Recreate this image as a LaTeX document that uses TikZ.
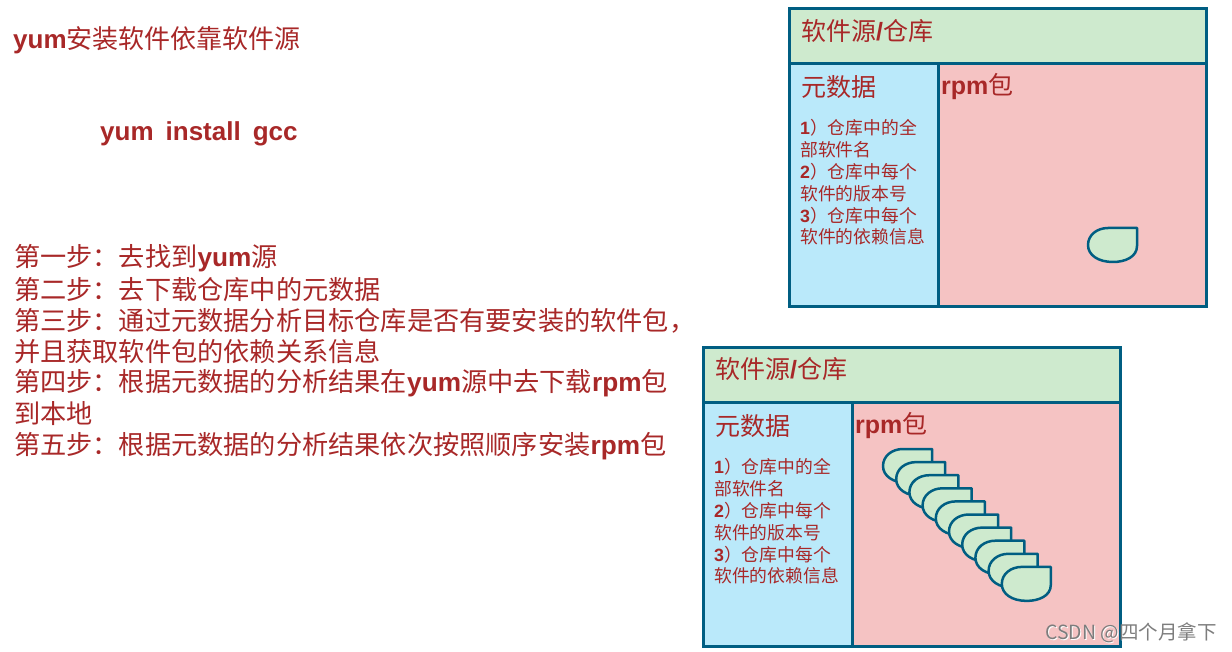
\documentclass[tikz,border=0pt]{standalone}
\usepackage{fontspec}
\setmainfont{Liberation Sans}
\newfontfamily\cjk{Noto Sans CJK SC}
\newfontfamily\lat{Liberation Sans}
\newcommand\LB[1]{{\lat\bfseries #1}}
\definecolor{tred}{RGB}{168,40,40}
\definecolor{bord}{RGB}{0,94,130}
\definecolor{hgreen}{RGB}{206,234,206}
\definecolor{mblue}{RGB}{186,233,250}
\definecolor{rpink}{RGB}{245,195,195}
\definecolor{wmgray}{RGB}{125,125,125}
\tikzset{
  txt/.style={inner sep=0pt, anchor=west, text=tred},
  big/.style={txt, font=\cjk\fontsize{25}{30}\selectfont},
  stepline/.style={txt, font=\cjk\fontsize{26.2}{31}\selectfont},
  small/.style={txt, font=\cjk\fontsize{17.8}{21}\selectfont},
  frame/.style={draw=bord, line width=3pt},
  dropst/.style={fill=hgreen, draw=bord, line width=2.5pt, line join=round},
}
\newcommand\drop[2]{\draw[dropst, shift={(#1,#2)}] (49,0) -- (49,18) .. controls (49,29) and (37,34) .. (25,34) .. controls (10,34) and (0,27) .. (0,17) .. controls (0,7) and (9,0) .. (20,0) -- cycle;}
\begin{document}
\begin{tikzpicture}[x=1pt,y=-1pt]
\useasboundingbox[fill=white] (0,0) rectangle (1232,652);

% left texts
\node[txt, font=\cjk\fontsize{26}{31}\selectfont] (title) at (13,40) {\LB{yum}安装软件依靠软件源};
\node[txt, font=\lat\bfseries\fontsize{26}{31}\selectfont] (cmd) at (100,134) {yum\hspace{12pt}install\hspace{12pt}gcc};
\node[stepline] (s1) at (14,258) {第一步：去找到\LB{yum}源};
\node[stepline] (s2) at (14,290) {第二步：去下载仓库中的元数据};
\node[stepline] (s3) at (14,321) {第三步：通过元数据分析目标仓库是否有要安装的软件包，};
\node[stepline] (s3b) at (14,352) {并且获取软件包的依赖关系信息};
\node[stepline] (s4) at (14,383) {第四步：根据元数据的分析结果在\LB{yum}源中去下载\LB{rpm}包};
\node[stepline] (s4b) at (14,414) {到本地};
\node[stepline] (s5) at (14,446) {第五步：根据元数据的分析结果依次按照顺序安装\LB{rpm}包};

% box 1
\fill[hgreen] (789,9) rectangle (1206,64);
\fill[mblue] (789,64) rectangle (938,307);
\fill[rpink] (938,64) rectangle (1206,307);
\draw[frame] (789,9) rectangle (1206,307);
\draw[frame] (789,64) -- (1206,64) (938,64) -- (938,307);
\node[big] (h1) at (801,31) {软件源\LB{/}仓库};
\node[big] (m1) at (801,87) {元数据};
\node[big] (r1) at (941,87) {\LB{rpm}包};
\node[small] (a1) at (800,128) {\LB{1}）仓库中的全};
\node[small] (a2) at (800,150) {部软件名};
\node[small] (a3) at (800,172) {\LB{2}）仓库中每个};
\node[small] (a4) at (800,194) {软件的版本号};
\node[small] (a5) at (800,216) {\LB{3}）仓库中每个};
\node[small] (a6) at (800,237) {软件的依赖信息};
\drop{1088}{228}

% box 2
\fill[hgreen] (703,348) rectangle (1120,402);
\fill[mblue] (703,402) rectangle (852,646);
\fill[rpink] (852,402) rectangle (1120,646);
\draw[frame] (703,348) rectangle (1120,646);
\draw[frame] (703,402) -- (1120,402) (852,402) -- (852,646);
\node[big] (h2) at (715,369) {软件源\LB{/}仓库};
\node[big] (m2) at (715,426) {元数据};
\node[big] (r2) at (855,426) {\LB{rpm}包};
\node[small] (b1) at (714,467) {\LB{1}）仓库中的全};
\node[small] (b2) at (714,489) {部软件名};
\node[small] (b3) at (714,511) {\LB{2}）仓库中每个};
\node[small] (b4) at (714,533) {软件的版本号};
\node[small] (b5) at (714,555) {\LB{3}）仓库中每个};
\node[small] (b6) at (714,576) {软件的依赖信息};
\foreach \i in {0,...,9} {\drop{{883+13.2*\i}}{{449+13.1*\i}}}

% watermark
\node[inner sep=0pt, anchor=west, text=white, font=\cjk\fontsize{19.5}{23}\selectfont] (wms) at (1046,634) {CSDN @四个月拿下};
\node[inner sep=0pt, anchor=west, text=wmgray, font=\cjk\fontsize{19.5}{23}\selectfont] (wm) at (1045,633) {CSDN @四个月拿下};
\end{tikzpicture}
\end{document}
